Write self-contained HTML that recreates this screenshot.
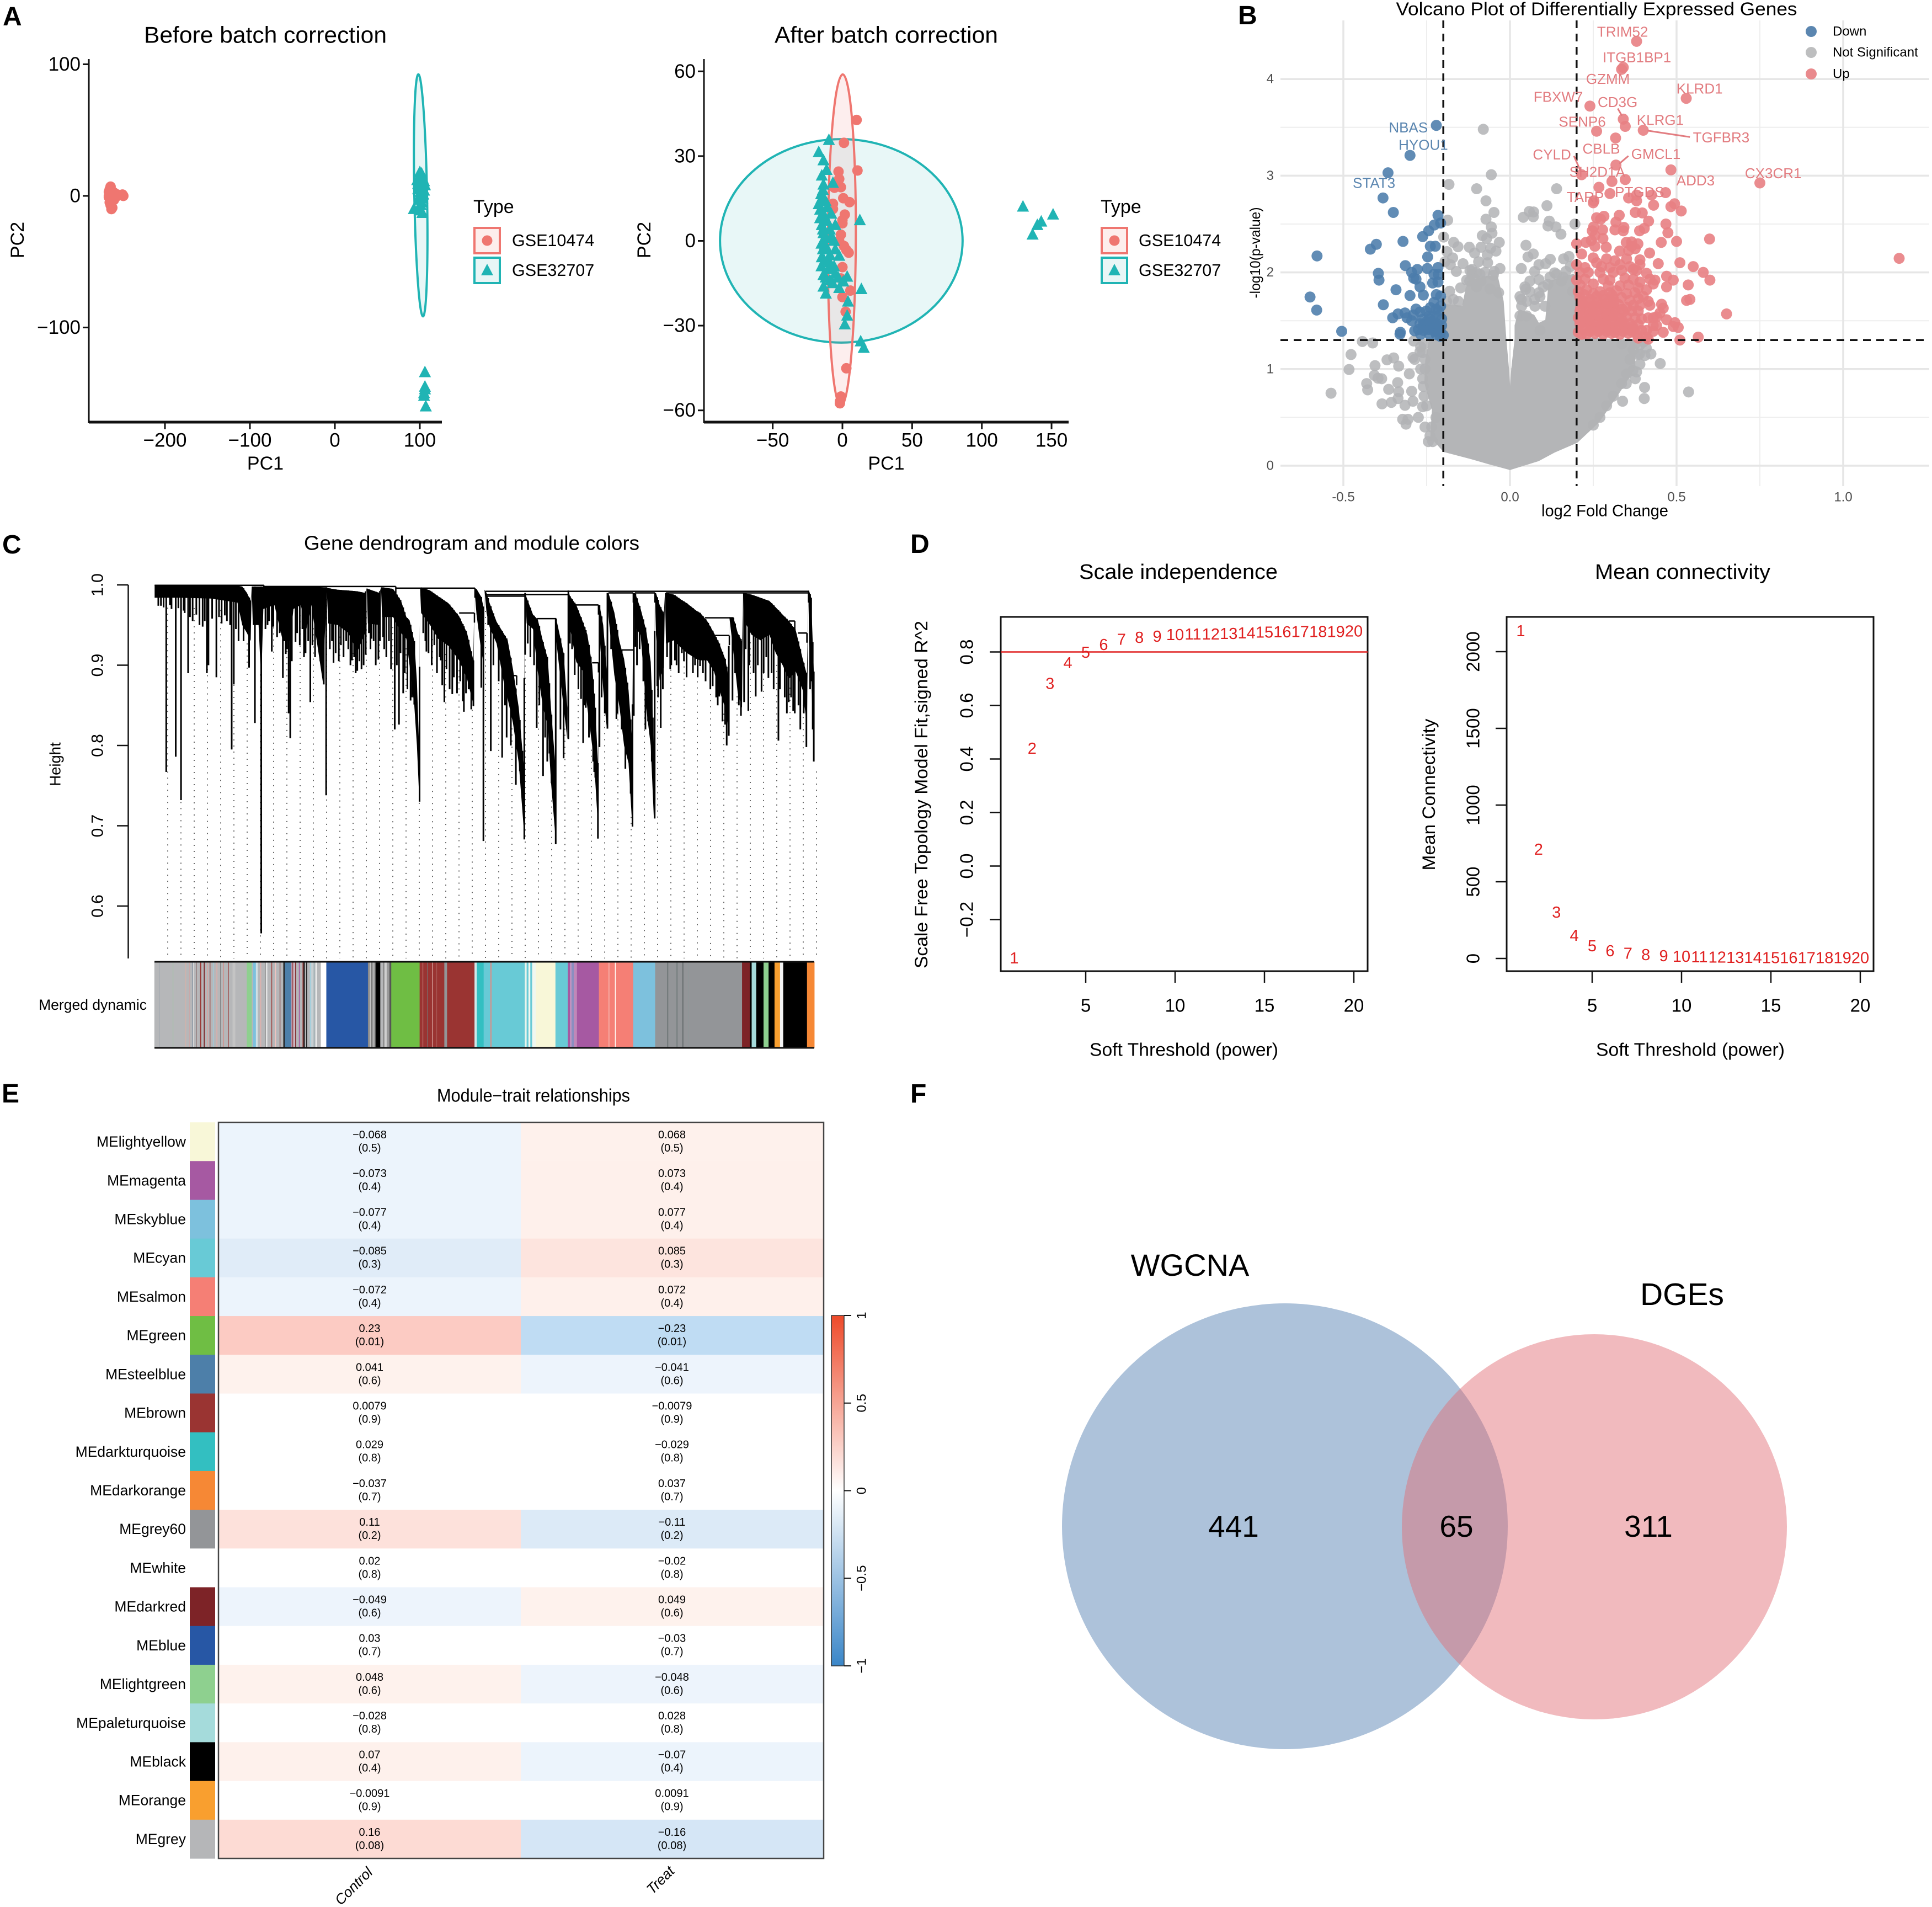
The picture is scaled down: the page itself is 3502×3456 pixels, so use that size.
<!DOCTYPE html>
<html lang="en">
<head>
<meta charset="utf-8">
<title>Multi-panel transcriptomics figure</title>
<style>
html,body{margin:0;padding:0;background:#fff}
svg{display:block}
text{font-family:"Liberation Sans",Arial,sans-serif;fill:#000}
.pl{font-weight:bold;font-size:48px}
</style>
</head>
<body>
<svg id="fig" xmlns="http://www.w3.org/2000/svg" width="3502" height="3456" viewBox="0 0 3502 3456">
<rect width="3502" height="3456" fill="#fff"/>
<text class="pl" x="5" y="46">A</text>
<text class="pl" x="2244" y="44">B</text>
<text class="pl" x="4" y="1003">C</text>
<text class="pl" x="1650" y="1002">D</text>
<text class="pl" x="3" y="1998">E</text>
<text class="pl" x="1650" y="1998">F</text>
<g id="pcaLeft"></g>
<g id="pcaRight"></g>
<g id="volcano"></g>
<g id="dendro"></g>
<g id="scale"></g>
<g id="conn"></g>
<g id="heat"></g>
<g id="venn">
  <circle cx="2329" cy="2766" r="404" fill="#adc2da"/>
  <circle cx="2890" cy="2767" r="349" fill="#e26d74" fill-opacity="0.47"/>
  <text x="2157" y="2312" font-size="56" text-anchor="middle">WGCNA</text>
  <text x="3049" y="2365" font-size="57" text-anchor="middle">DGEs</text>
  <text x="2236" y="2785" font-size="55" text-anchor="middle">441</text>
  <text x="2640" y="2785" font-size="55" text-anchor="middle">65</text>
  <text x="2988" y="2785" font-size="55" text-anchor="middle">311</text>
</g>
</svg>
<script>
/* ---------- PCA data ---------- */
const pcaLeftXTicks=[-200,-100,0,100];
const pcaLeftYTicks=[100,0,-100];
const pcaLeftRed=[[-265,5],[-264,7],[-266,3],[-263,2],[-266,0],[-262,0],[-265,-2],[-261,3],[-266,-1],[-263,-4],[-265,-5],[-264,-7],[-263,-10],[-262,-9],[-258,-1],[-256,1],[-250,1],[-249,0],[-259,2],[-265,5],[-260,-3]];
const pcaLeftTeal=[[100,18],[102,17],[99,14],[103,14],[97,12],[101,12],[105,11],[98,9],[102,9],[106,8],[100,7],[103,6],[98,5],[105,4],[101,3],[104,1],[100,0],[103,-2],[99,-3],[102,-5],[101,-7],[93,-10],[101,-11],[103,-13],[99,-9],[106,-134],[106,-145],[105,-150],[105,-152],[106,-147],[107,-160]];
const pcaLeftEllipse=[101,0.4,7.5,92];
const pcaRightXTicks=[-50,0,50,100,150];
const pcaRightYTicks=[60,30,0,-30,-60];
const pcaRightRed=[[10.2,42.8],[1.1,34.7],[10.8,24.9],[-2.8,24.5],[-2.3,21.9],[-5.7,18.8],[-1.1,19],[0.6,15.1],[5.1,13.7],[-6.8,13.1],[-6.8,11.3],[1.7,9.3],[0,7.3],[0,6.2],[-1.1,2.2],[-2.3,-0.1],[1.1,-1.8],[2.8,-3.2],[4.5,-4.2],[0,-9.3],[-1.1,-13.3],[5.7,-17.6],[0,-19.9],[2.3,-25.1],[2.8,-45.1],[-1.1,-55.1],[-1.7,-56.8],[-1.8,-57.5]];
const pcaRightTeal=[[-9.7,35.7],[-17,31.4],[-13.6,28.5],[-11.4,25.1],[-14.8,23.1],[-6.8,20.5],[-13.6,19.9],[-15.3,16.5],[-17,13],[-10.8,11.9],[-8,9.6],[-14.8,5.6],[-5.1,5.6],[12.5,7.3],[-13.6,2.7],[-8,1.6],[-12.5,-1.3],[-5.1,-3],[-14.8,-5.8],[-9.1,-7.6],[-2.3,-5.3],[-13.6,-12.1],[-5.1,-11.6],[3.4,-12.7],[0.6,-14.4],[-13.6,-16.2],[-2.3,-16.7],[13.6,-17.1],[-11.9,-18.7],[4,-21.5],[3.4,-26.5],[1.7,-29.6],[13.1,-35.6],[15.3,-37.9],[129.5,12.1],[142.6,6.8],[139.8,5.6],[151.1,9.3],[136.4,2.2],[-14,18],[-15,15],[-12,14],[-16,11],[-13,9],[-11,7],[-16,8],[-14,4],[-12,1],[-15,-1],[-11,-3],[-14,-3],[-13,-7],[-15,-9],[-10,-10],[-12,-13],[-9,-14],[-7,-15],[-3,-13],[-6,-9],[-9,-5],[-6,0],[-9,4]];
const pcaRightTealEllipse=[-0.8,0,87,36];
const pcaRightRedEllipse=[-0.4,0.2,10,58.7];
const legendNames=['GSE10474','GSE32707'];

/* ---------- Volcano data ---------- */
const volcanoXTicks=[-0.5,0,0.5,1];
const volcanoXTickText=['-0.5','0.0','0.5','1.0'];
const volcanoXMinor=[-0.25,0.25,0.75];
const volcanoYTicks=[0,1,2,3,4];
const volcanoYMinor=[0.5,1.5,2.5,3.5];
const volcanoDown=[[-.221,3.52],[-.30,3.21],[-.366,3.03],[-.381,2.77],[-.35,2.62],[-.216,2.59],[-.227,2.49],[-.244,2.43],[-.262,2.37],[-.208,2.51],[-.321,2.32],[-.401,2.29],[-.419,2.24],[-.239,2.27],[-.224,2.27],[-.247,2.16],[-.579,2.17],[-.314,2.07],[-.395,1.99],[-.393,1.92],[-.295,2.0],[-.278,2.03],[-.248,2.04],[-.216,2.05],[-.289,1.94],[-.282,1.93],[-.215,1.98],[-.228,1.98],[-.232,1.89],[-.216,1.90],[-.27,1.85],[-.342,1.82],[-.30,1.76],[-.26,1.765],[-.221,1.77],[-.208,1.755],[-.60,1.745],[-.38,1.665],[-.58,1.61],[-.228,1.69],[-.239,1.635],[-.221,1.62],[-.282,1.62],[-.251,1.60],[-.208,1.65],[-.336,1.57],[-.315,1.58],[-.352,1.53],[-.309,1.53],[-.295,1.50],[-.262,1.515],[-.242,1.55],[-.221,1.55],[-.505,1.39],[-.329,1.38],[-.286,1.395],[-.255,1.43],[-.235,1.445],[-.215,1.445],[-.268,1.36],[-.242,1.36],[-.221,1.355],[-.208,1.38],[-.29,1.56],[-.27,1.47],[-.25,1.49],[-.23,1.50],[-.205,1.52],[-.27,1.59],[-.23,1.40],[-.33,1.36],[-.275,1.41],[-.21,1.34],[-.225,1.39],[-.245,1.41],[-.26,1.46],[-.24,1.52],[-.215,1.6],[-.205,1.45],[-.22,1.47],[-.2,1.35],[-.26,1.40]];
const volcanoUp=[[.38,4.39],[.34,4.12],[.335,4.10],[.529,3.80],[.24,3.72],[.34,3.585],[.346,3.51],[.40,3.47],[.26,3.46],[.317,3.39],[.318,3.11],[.483,3.06],[.215,3.01],[.75,2.925],[.346,2.96],[.306,2.94],[.267,2.88],[.467,2.825],[.30,2.815],[.356,2.77],[.38,2.80],[.425,2.80],[.38,2.74],[.252,2.74],[.25,2.72],[.494,2.71],[.431,2.695],[.483,2.68],[.514,2.635],[.376,2.62],[.397,2.615],[.328,2.59],[.282,2.58],[.26,2.565],[.272,2.55],[.416,2.53],[.318,2.52],[.468,2.50],[.251,2.47],[.278,2.44],[.247,2.43],[.342,2.465],[.34,2.43],[.315,2.44],[.403,2.455],[.389,2.43],[.474,2.41],[.255,2.38],[.279,2.35],[.599,2.345],[.50,2.32],[.454,2.31],[.2,2.295],[.228,2.31],[.244,2.33],[.349,2.31],[.365,2.315],[.384,2.295],[.365,2.27],[.376,2.245],[.356,2.225],[.255,2.27],[.289,2.26],[.329,2.22],[.419,2.20],[.215,2.19],[1.168,2.145],
[.25,2.15],[.29,2.14],[.315,2.12],[.35,2.14],[.39,2.13],[.2,2.08],[.225,2.05],[.26,2.10],[.275,2.06],[.30,2.05],[.33,2.08],[.36,2.06],[.39,2.08],[.445,2.09],[.51,2.10],[.55,2.06],[.58,2.0],[.6,1.92],[.21,2.0],[.235,2.0],[.27,2.0],[.31,2.0],[.335,2.02],[.37,2.03],[.38,2.02],[.41,1.99],[.47,1.96],[.49,1.92],[.42,1.93],[.435,1.92],[.2,1.92],[.225,1.93],[.28,1.93],[.30,1.92],[.345,1.94],[.37,1.93],[.39,1.9],[.43,1.88],[.47,1.85],[.535,1.87],[.53,1.71],[.54,1.72],[.65,1.57],[.21,1.87],[.25,1.88],[.295,1.86],[.33,1.86],[.355,1.87],[.385,1.84],[.41,1.82],
[.205,1.8],[.23,1.82],[.27,1.80],[.3,1.79],[.32,1.81],[.35,1.78],[.375,1.79],[.4,1.75],[.385,1.73],[.21,1.74],[.24,1.72],[.26,1.75],[.285,1.72],[.31,1.73],[.335,1.74],[.36,1.71],[.415,1.70],[.42,1.66],[.455,1.67],[.46,1.63],[.39,1.66],[.22,1.67],[.25,1.65],[.275,1.67],[.3,1.65],[.325,1.67],[.35,1.64],[.37,1.66],[.385,1.6],[.21,1.6],[.235,1.6],[.265,1.61],[.29,1.59],[.315,1.6],[.34,1.59],[.365,1.6],[.45,1.58],[.44,1.54],[.415,1.53],[.43,1.53],
[.205,1.53],[.225,1.54],[.25,1.55],[.275,1.53],[.3,1.55],[.325,1.53],[.35,1.54],[.375,1.53],[.395,1.52],[.47,1.51],[.495,1.48],[.49,1.44],[.505,1.43],[.43,1.45],[.44,1.45],[.21,1.47],[.235,1.48],[.26,1.47],[.285,1.48],[.31,1.47],[.335,1.48],[.36,1.47],[.385,1.46],[.41,1.4],[.22,1.41],[.245,1.42],[.27,1.41],[.295,1.42],[.32,1.41],[.345,1.42],[.37,1.41],[.395,1.40],[.205,1.38],[.23,1.36],[.255,1.37],[.28,1.36],[.305,1.37],[.33,1.36],[.355,1.37],[.38,1.36],[.43,1.39],[.46,1.38],[.41,1.33],[.385,1.32],[.415,1.31],[.51,1.30],[.565,1.33],
[.215,1.36],[.24,1.39],[.265,1.39],[.29,1.39],[.315,1.38],[.34,1.39],[.365,1.39],[.218,1.44],[.243,1.45],[.268,1.44],[.293,1.45],[.318,1.44],[.343,1.45],[.368,1.44],[.212,1.5],[.237,1.51],[.262,1.5],[.287,1.51],[.312,1.5],[.337,1.5],[.215,1.56],[.24,1.57],[.262,1.56],[.29,1.56],[.312,1.56],[.212,1.63],[.24,1.63],[.262,1.64],[.288,1.63],[.312,1.63],[.337,1.62],[.215,1.7],[.232,1.69],[.262,1.69],[.29,1.68],[.312,1.69],[.222,1.77],[.25,1.78],[.28,1.76],[.307,1.76]];
const volcanoGrayOutliers=[[-.08,3.48],[-.056,3.01],[-.183,2.91],[-.10,2.865],[.14,2.865],[-.072,2.74],[-.048,2.62],[.111,2.69],[-.187,2.54],[.04,2.57],[.058,2.63],[.071,2.625],[.07,2.575],[-.072,2.55],[.118,2.53],[.195,2.50],[-.056,2.47],[.114,2.48],[.138,2.47],[-.054,2.405],[.153,2.395],[-.199,2.365],[-.083,2.38],[-.07,2.35],[-.169,2.31],[-.032,2.31],[-.156,2.265],[-.122,2.26],[-.087,2.26],[-.058,2.25],[.048,2.28],[-.042,2.22],[-.189,2.215],[-.106,2.2],[-.068,2.18],[.07,2.19],[.054,2.16],[.121,2.135],[.161,2.14],[.177,2.165],[-.172,2.15],[-.195,2.11],[-.141,2.09],[-.179,2.08],[-.094,2.11],[-.067,2.10],[-.03,2.04],[.034,2.04],[.087,2.08],[.107,2.09],[.181,2.06],[-.161,2.01],[-.114,2.03],[-.047,2.01],[.074,2.01],[.134,1.995],[.168,2.01],[-.121,1.91],[-.087,1.91],[.06,1.91],[.087,1.925],[.114,1.875],[.154,1.91],[-.148,1.84],[-.181,1.805],[-.034,1.79],[.047,1.825],[.087,1.79],[.188,1.805],[.034,1.72],[.074,1.72],[-.114,1.98],[-.1,1.85],[-.06,1.83],
[-.443,1.285],[-.412,1.27],[-.477,1.15],[-.483,.995],[-.537,.75],[-.369,1.095],[-.349,1.115],[-.405,1.035],[-.334,1.03],[-.291,1.12],[-.286,1.10],[-.407,.935],[-.396,.905],[-.385,.90],[-.43,.85],[-.427,.785],[-.337,.86],[-.364,.79],[-.334,.765],[-.295,.77],[-.384,.64],[-.356,.655],[-.336,.695],[-.315,.625],[-.291,.667],[-.262,.61],[-.322,.48],[-.312,.43],[-.306,.48],[-.275,.50],[-.255,.40],[-.232,.25],[-.302,.95],[-.268,1.0],[-.262,1.17],[-.289,1.29],
[.451,1.057],[.536,.763],[.403,.695],[.404,.81],[.338,.667],[.376,.90],[.409,1.218],[.423,1.156],[.389,1.156],[.369,.985],[.349,.85],[.336,1.26],[.376,1.26],[.4,1.28],[.36,1.1],
[-.19,1.7],[-.17,1.72],[-.155,1.7],[-.13,1.92],[-.11,1.95],[-.09,1.98],[-.075,2.0],[-.05,1.97],[-.1,2.0],[-.12,2.02],[.035,1.65],[.05,1.7],[.03,1.75],[.045,1.85],[.06,1.8],[.075,1.65],[.09,1.75],[.1,1.85],[.12,1.95],[.14,1.98],[.16,1.95],[.105,1.65],[.03,1.55],[.05,1.55],[.09,1.4],
[-.245,.25],[-.24,.31],[-.235,.4],[-.222,.5],[-.25,.62],[-.258,.72],[-.26,.82],[-.262,.9],[-.255,1.0],[-.255,1.1],[-.27,1.18],[-.268,1.23],[-.258,1.26],[.38,.97],[.39,1.05],[.385,1.15],[.37,1.2],[.35,.95],[.335,.85],[.31,.72],[.29,.62],[.27,.5],[.25,.42],[.39,1.25],[.405,1.14]];
const grayLeftWingFc=[0,-.064,-.114,-.197,-.235,-.23,-.253,-.25,-.24,-.2,-.2,-.14,-.125,-.07,-.04,-.023,-.015,-.007,0];
const grayLeftWingP=[-.03,.03,.08,.155,.3,.575,.86,1.09,1.28,1.32,1.66,1.64,1.9,1.95,1.95,1.7,1.31,1.0,.63];
const grayRightWingFc=[0,.008,.018,.018,.03,.07,.085,.11,.12,.19,.2,.372,.372,.323,.265,.2,.133,.084,0];
const grayRightWingP=[.63,1.0,1.31,1.45,1.6,1.55,1.46,1.5,1.9,1.97,1.32,1.28,1.01,.75,.46,.25,.15,.06,-.03];
const geneLabelsUp=[['TRIM52',.338,4.49],['ITGB1BP1',.381,4.225],['GZMM',.294,4.0],['KLRD1',.569,3.90],['FBXW7',.145,3.815],['CD3G',.323,3.76],['SENP6',.217,3.56],['KLRG1',.451,3.575],['TGFBR3',.634,3.397],['CBLB',.274,3.28],['CYLD',.126,3.22],['GMCL1',.438,3.226],['SH2D1A',.262,3.04],['ADD3',.557,2.95],['CX3CR1',.79,3.024],['PTGDS',.389,2.83],['TARP',.226,2.78]];
const geneLabelsDown=[['NBAS',-.305,3.50],['HYOU1',-.26,3.32],['STAT3',-.408,2.925]];
const geneLeaders=[[.3235,3.695,.336,3.62],[.413,3.466,.54,3.40],[.3555,3.204,.328,3.124],[.192,3.204,.212,3.048]];
const volcanoLegendNames=['Down','Not Significant','Up'];
const fcThresholds=[-0.2,0.2];
const pThreshold=1.3;

/* ---------- Dendrogram data: [leaf rank, upper height, lower height] ---------- */
const dendroMass=[[293,1,.984],[340,1,.984],[400,1,.983],[450,.999,.978],[459,.998,.95],[468,.99,.94],[475,.98,.93],[477,.998,.998],[479,.998,.95],[490,.998,.95],[495,.998,.878],[499,.998,.97],[520,.998,.975],[536,.998,.93],[550,.998,.93],[556,.998,.97],[570,.998,.975],[580,.998,.943],[590,.998,.975],[612,.997,.878],[619,.997,.997],[622,.996,.952],[640,.994,.95],[660,.993,.94],[677,.992,.917],[692,.99,.94],[695,.996,.996],[697,.995,.952],[719,.99,.95],[722,.997,.997],[724,.997,.96],[745,.995,.96],[760,.98,.94],[770,.96,.933],[776,.956,.90],[785,.93,.85],[790,.88,.80],[794,.80,.74],[796,.996,.996],[798,.997,.965],[815,.993,.95],[830,.986,.933],[850,.977,.924],[870,.961,.906],[885,.94,.883],[897,.906,.851],[899,.995,.995],[903,.995,.963],[912,.985,.917],[917,.97,.90],[918,.994,.994],
[922,.99,.965],[928,.977,.947],[941,.954,.927],[954,.94,.881],[962,.931,.858],[972,.895,.828],[983,.847,.778],[992,.778,.70],[995,.99,.99],[998,.984,.952],[1010,.963,.945],[1019,.957,.892],[1029,.929,.847],[1038,.908,.824],[1044,.847,.755],[1052,.778,.69],[1053,.958,.958],[1054,.958,.931],[1068,.915,.847],[1075,.847,.808],[1077,.993,.993],[1080,.986,.947],[1092,.975,.904],[1105,.953,.892],[1113,.938,.847],[1122,.90,.80],[1128,.847,.755],[1133,.778,.70],[1135,.975,.975],[1136,.975,.94],[1143,.95,.87],[1150,.89,.82],[1151,.99,.99],[1153,.99,.961],[1164,.966,.888],[1174,.929,.847],[1182.5,.908,.80],[1191,.869,.778],[1198,.805,.70],[1200,.99,.99],[1203.5,.99,.947],[1214,.97,.938],[1224.5,.943,.847],[1233,.904,.80],[1239,.80,.709],[1241,.99,.99],[1243,.99,.938],[1250,.975,.881],[1258,.964,.897],[1260,.99,.99],[1262,.99,.927],[1277,.988,.931],[1290,.982,.922],[1302,.977,.915],[1319,.968,.908],[1327,.965,.906],[1340,.955,.906],[1353,.94,.892],[1363,.927,.869],[1374,.908,.847],[1380,.888,.824],[1382,.96,.96],[1390,.959,.915],[1398,.94,.865],[1406,.93,.847],[1408,.99,.99],[1409,.99,.957],[1424,.988,.938],[1441,.984,.931],[1458,.98,.938],[1470,.972,.915],[1483,.963,.90],[1495,.955,.883],[1508,.943,.892],[1521,.908,.869],[1529,.888,.824],[1532,.993,.993],[1533,.993,.927],[1537,.984,.892],[1542,.892,.78],[1543,.88,.78]];
const dendroTicks=[1.0,0.9,0.8,0.7,0.6];
const dendroSpikes=[[300,.974],[305,.974],[315,.767],[325,.97],[333,.786],[343,.732],[350,.965],[356.5,.89],[365,.955],[378,.95],[392,.89],[395,.90],[410,.885],[415,.96],[430,.955],[439,.795],[443,.876],[461.5,.93],[472,.897],[483,.828],[495,.566],[507,.95],[515,.917],[536,.884],[541.5,.914],[547,.84],[550,.809],[560,.929],[576,.91],[588,.854],[604,.922],[613.5,.876],[618,.738],[632,.903],[642,.905],[656,.93],[667,.906],[677,.893],[693,.913],[704,.933],[717,.907],[728,.92],[748,.82],[756,.826],[764,.865],[778,.856],[785,.851],[795,.73],[808,.917],[835,.906],[842,.854],[857,.864],[879,.842],[888,.87],[897,.849],[912,.872],
[916,.681],[930,.793],[951.5,.785],[960,.81],[977.5,.751],[985,.768],[993.5,.683],[995,.913],[1000,.927],[1017,.822],[1029,.762],[1037,.78],[1045,.753],[1053,.677],[1068,.784],[1077,.808],[1080,.927],[1089,.888],[1101,.858],[1105,.803],[1110,.847],[1119.5,.835],[1126,.767],[1128,.76],[1133,.684],[1136,.798],[1151,.821],[1168,.833],[1185,.771],[1189,.796],[1198.5,.699],[1201,.837],[1204,.923],[1212,.92],[1223,.82],[1237,.79],[1240.5,.709],[1245.5,.874],[1252,.822],[1270,.895],[1279,.906],[1292,.915],[1308.5,.915],[1317,.90],[1326.5,.899],[1342,.906],[1350.5,.874],[1363,.861],[1374,.826],[1381,.812],[1388,.856],[1404,.837],[1410,.854],[1418,.843],[1432,.861],[1443,.867],[1456,.884],[1475,.806],[1494.5,.854],[1503,.843],[1516.5,.82],[1528,.798],[1537,.88],[1542,.78]];
const dendroFringe=[[310,.972],[322,.975],[338,.971],[348,.968],[360,.96],[372,.963],[384,.948],[388,.955],[402,.958],[420,.952],[426,.962],[436,.95],[447,.945],[452,.93],
[503,.945],[510,.955],[518,.948],[525,.935],[530,.94],[544,.92],[553,.905],[563,.94],[568,.925],[573,.945],[579,.915],[584,.93],[592,.925],[597,.91],[601,.935],[607,.905],[610,.92],[625,.92],[629,.93],[636,.915],[646,.925],[651,.91],[660,.92],[664,.9],[671,.91],[674,.89],[681,.905],[685,.895],[689,.90],
[699,.94],[702,.92],[708,.93],[712,.90],[720,.93],[726,.935],[732,.91],[737,.93],[741,.895],[752,.9],[759,.915],[767,.89],[772,.87],[781,.86],
[802,.94],[806,.93],[812,.915],[818,.90],[823,.925],[828,.89],[833,.91],[838,.875],[846,.895],[852,.87],[860,.885],[866,.865],[872,.88],[877,.855],[883,.865],[893,.845],
[925,.95],[935,.90],[945,.88],[957,.85],[968,.80],[990,.74],[1005,.91],[1012,.90],[1022,.85],[1033,.81],[1041,.79],[1062,.82],[1084,.92],[1096,.87],[1108,.85],[1116,.81],[1124,.78],[1140,.86],[1146,.84],[1158,.92],[1170,.84],[1178,.82],[1195,.74],[1207,.90],[1219,.88],[1228,.83],[1235,.78],[1247,.86],[1256,.87],
[1264,.91],[1272,.90],[1282,.90],[1286,.89],[1296,.905],[1301,.885],[1313,.89],[1322,.885],[1332,.89],[1337,.88],[1346,.87],[1357,.86],[1360,.85],[1369,.83],[1377,.80],
[1393,.89],[1400,.85],[1413,.92],[1420,.90],[1428,.89],[1436,.90],[1447,.89],[1452,.91],[1462,.89],[1466,.87],[1478,.87],[1487,.86],[1491,.84],[1499,.86],[1506,.84],[1513,.85],[1523,.84],[1535,.87],[1540,.82]];
const dendroMerges=[[293,500,.9995],[500,750,.998],[750,900,.996],[920,1532,.992],[920,1077,.988],[922,996,.986],[1018,1054,.958],[1090,1134,.975],[1178,1201,.919],[1122,1134,.903],[972,979,.887],[1336,1390,.959],[1355,1382,.937],[1262,1532,.99],[1512,1529,.94],[1495,1506,.955],[870,899,.965],[630,690,.989],[1153,1200,.99],[1203,1241,.99]];
const G='#b6b7b9';
const moduleBands=[[48,G],[58,'#a3a9b0'],[59.5,G],[88,'#a5c6a5'],[89.5,G],[116,'#d8b0a8'],[117.5,G],[124,'#c9a9a9'],[126,G],[131,'#7f8f9e'],[132.5,'#d5d5d5'],[135,G],[139,'#8a6a6a'],[140.5,G],[148,'#9b3532'],[150.5,G],[156,'#7c2326'],[158,G],[163,'#d9a5a0'],[165,G],[169,'#9b3532'],[170.5,G],[176,'#a5c8d5'],[178,G],[184,'#f0a8a0'],[185.5,G],[192,'#7d7d7d'],[193.5,G],[198,'#cf9490'],[200,G],[209,'#9b3532'],[210.5,G],[219,'#c4c4c4'],[225,G],[250,'#8ed08f'],[261,G],[264,'#7dc1dd'],[270,'#d0e0e4'],[274,G],[280,'#f0b0a8'],[281.5,G],[290,'#9b9b9b'],[292,'#e6e6e6'],[295,G],[304,'#9b3532'],[305.5,G],[312,'#f2c4bf'],[314,G],[322,'#7c2326'],[323.5,G],[330,'#222222'],[333,'#4d7fa9'],[347,'#b69ab0'],[350,'#9b3532'],[351.5,'#c9b8c4'],[356,'#7d2327'],[358,G],[364,'#a659a2'],[366,G],[372,'#9b3532'],[374,'#222222'],[377,G],[380,'#222222'],[382,G],[388,'#a5cfdc'],[391,'#c8cfd2'],[396,'#a8b4b8'],[400,'#e8e8e8'],[404,G],[412,'#ffffff'],[424,'#2757a5'],[515,'#8c8c8c'],[519,'#c5c5c5'],[522,'#777777'],[525,'#b0b0b0'],[530,'#555555'],[533,'#000000'],[542,G],[548,'#888888'],[551,'#cfcfcf'],[556,'#999999'],[562,'#555555'],[566,'#6fbe44'],[628,'#9a3432'],[634,'#b5605c'],[636,'#9a3432'],[645,'#777777'],[646.5,'#9a3432'],[655,'#c98a85'],[657,'#9a3432'],[665,'#b06a66'],[666,'#9a3432'],[682,'#939598'],[688,'#9a3432'],[748,'#cfe8ea'],[753,'#33bfc1'],[768,'#68cad6'],[783,'#f57f75'],[785,'#68cad6'],[858,'#e8f4ec'],[862,'#68cad6'],[866,'#f0f7f0'],[870,'#68cad6'],[874,'#f0f7f0'],[882,'#f8f7d8'],[925,'#68cad6'],[952,'#a659a2'],[957,'#c89ac4'],[960,'#8a8fc0'],[965,'#c088b8'],[972,'#a659a2'],[1020,'#f57f75'],[1041,'#f5b3ac'],[1043,'#f57f75'],[1055,'#fff7f2'],[1057,'#f57f75'],[1095,'#7dc1dd'],[1143,'#939598'],[1170,'#55605f'],[1171.5,'#939598'],[1190,'#5f6d6c'],[1191.5,'#939598'],[1203,'#4f5a59'],[1204.5,'#939598'],[1215,'#8f9698'],[1217,'#939598'],[1333,'#7d2327'],[1350,'#000000'],[1354,'#a5dbdb'],[1364,'#000000'],[1380,'#8ed08f'],[1391,'#000000'],[1404,'#f99f2f'],[1416,'#f5f5f5'],[1423,'#000000'],[1475,'#f68835']];

/* ---------- Soft threshold data ---------- */
const powers=[1,2,3,4,5,6,7,8,9,10,11,12,13,14,15,16,17,18,19,20];
const scaleFitValues=[-.345,.438,.68,.758,.797,.826,.845,.853,.857,.863,.865,.865,.867,.869,.872,.873,.874,.874,.874,.876];
const meanConnValues=[2133,708,298,148,79,47,31,22,14,10,7,5,4,3,2,2,1,1,1,1];
const powerTicks=[5,10,15,20];
const scaleYTicks=[-.2,0,.2,.4,.6,.8];
const scaleYTickText=['\u22120.2','0.0','0.2','0.4','0.6','0.8'];
const connYTicks=[0,500,1000,1500,2000];
const cutHeight=0.8;

/* ---------- Heatmap data ---------- */
const moduleNames=['MElightyellow','MEmagenta','MEskyblue','MEcyan','MEsalmon','MEgreen','MEsteelblue','MEbrown','MEdarkturquoise','MEdarkorange','MEgrey60','MEwhite','MEdarkred','MEblue','MElightgreen','MEpaleturquoise','MEblack','MEorange','MEgrey'];
const moduleColors=['#f8f7d8','#a659a2','#7dc1dd','#68cad6','#f57f75','#6fbe44','#4d7fa9','#9a3432','#33bfc1','#f68835','#939598','#ffffff','#7d2327','#2757a5','#8ed08f','#a5dbdb','#000000','#f99f2f','#b5b6b8'];
const corrControl=[-.068,-.073,-.077,-.085,-.072,.23,.041,.0079,.029,-.037,.11,.02,-.049,.03,.048,-.028,.07,-.0091,.16];
const corrTreat=[.068,.073,.077,.085,.072,-.23,-.041,-.0079,-.029,.037,-.11,-.02,.049,-.03,-.048,.028,-.07,.0091,-.16];
const pValues=['0.5','0.4','0.4','0.3','0.4','0.01','0.6','0.9','0.8','0.7','0.2','0.8','0.6','0.7','0.6','0.8','0.4','0.9','0.08'];
const traitNames=['Control','Treat'];
const heatLegendTicks=[1,0.5,0,-0.5,-1];
const heatLevels=[0,.04,.041,.08,.085,.16,.23,1];
const heatReds=[[255,255,255],[255,255,255],[254,242,237],[254,240,235],[253,228,222],[253,219,212],[252,203,195],[238,74,42]];
const heatBlues=[[255,255,255],[255,255,255],[237,244,252],[236,244,252],[224,236,248],[213,230,246],[191,220,243],[58,134,200]];

/* ---------- helpers ---------- */
const NS='http://www.w3.org/2000/svg';
const $=id=>document.getElementById(id);
function el(tag,attrs,parent,txt){
  const e=document.createElementNS(NS,tag);
  for(const k in attrs)e.setAttribute(k,attrs[k]);
  if(txt!==undefined)e.textContent=txt;
  parent.appendChild(e);
  return e;
}
function label(parent,name,x,y,size,txt,anchor,rot,extra){
  const a=Object.assign({x:x,y:y,'font-size':size,'text-anchor':anchor||'middle','dominant-baseline':'central'},extra||{});
  if(rot)a.transform='rotate('+rot+' '+x+' '+y+')';
  const t=el('text',a,parent,txt);
  
  
  return t;
}
function seg(parent,name,x1,y1,x2,y2,stroke,w,dash){
  const a={x1:x1,y1:y1,x2:x2,y2:y2,stroke:stroke,'stroke-width':w};
  if(dash)a['stroke-dasharray']=dash;
  const l=el('line',a,parent);
  
  
  return l;
}
const minus=s=>String(s).replace('-','\u2212');

/* ---------- Panel A ---------- */
const RED='#ef7670',TEAL='#20b4b4';
function dot(parent,x,y){
  const c=el('circle',{cx:x,cy:y,r:9.5,fill:RED},parent);
  
  
}
function tri(parent,x,y){
  const p=el('polygon',{points:(x-11)+','+(y+9)+' '+(x+11)+','+(y+9)+' '+x+','+(y-12),fill:TEAL},parent);
  
  
}
function ellipse(parent,name,cx,cy,rx,ry,col,fill,rot){
  const e=el('ellipse',{cx:cx,cy:cy,rx:rx,ry:ry,fill:fill,stroke:col,'stroke-width':4,transform:'rotate('+rot+' '+cx+' '+cy+')'},parent);
  
  
}
function pcaAxes(g,left,right,xs,ys,xt,yt,title,titleW,legendX,legendLabelX,pc2X){
  label(g,'pca-title',(left+right)/2,63,42,title,'middle',0,{textLength:titleW,lengthAdjust:'spacingAndGlyphs'});
  seg(g,'y-axis-line',left,107,left,767,'#111',3);
  seg(g,'x-axis-line',left,765,right,765,'#111',5);
  xt.forEach(function(v){
    seg(g,'x-axis-tick',xs(v),765,xs(v),778,'#111',3);
    label(g,'x-axis-tick-label',xs(v),798,35,minus(v));
  });
  yt.forEach(function(v){
    seg(g,'y-axis-tick',left-11,ys(v),left,ys(v),'#111',3);
    label(g,'y-axis-tick-label',left-15,ys(v),35,minus(v),'end');
  });
  label(g,'x-axis-title',(left+right)/2,840,34,'PC1');
  label(g,'y-axis-title',pc2X,435,34,'PC2','middle',-90);
  label(g,'legend-title',legendX,375,34,'Type','start');
  const cols=[RED,TEAL],fills=['#fdeeec','#e8f6f6'],tops=[411,465];
  legendNames.forEach(function(n,i){
    const r=el('rect',{x:legendX+2,y:tops[i]+2,width:46,height:46,fill:fills[i],stroke:cols[i],'stroke-width':4},g);
    
    
    if(i===0)dot(g,legendX+25,tops[i]+25);else tri(g,legendX+25,tops[i]+25);
    label(g,'legend-label',legendLabelX,tops[i]+25,30.5,n,'start');
  });
}
(function(){
  const g=$('pcaLeft');
  const xs=v=>607+1.54*v, ys=v=>355-2.385*v;
  ellipse(g,'ellipse-gse32707',xs(pcaLeftEllipse[0]),ys(pcaLeftEllipse[1]),pcaLeftEllipse[2]*1.54,pcaLeftEllipse[3]*2.385,TEAL,'#e8f6f6',-1.1);
  pcaLeftRed.forEach(function(p){dot(g,xs(p[0]),ys(p[1]));});
  pcaLeftTeal.forEach(function(p){tri(g,xs(p[0]),ys(p[1]));});
  pcaAxes(g,161,801,xs,ys,pcaLeftXTicks,pcaLeftYTicks,'Before batch correction',440,858,928,32);
  const h=$('pcaRight');
  const xr=v=>1527+2.527*v, yr=v=>436.5-5.12*v;
  ellipse(h,'ellipse-gse32707',xr(pcaRightTealEllipse[0]),yr(pcaRightTealEllipse[1]),pcaRightTealEllipse[2]*2.527,pcaRightTealEllipse[3]*5.12,TEAL,'rgba(32,180,180,.1)',0);
  ellipse(h,'ellipse-gse10474',xr(pcaRightRedEllipse[0]),yr(pcaRightRedEllipse[1]),pcaRightRedEllipse[2]*2.527,pcaRightRedEllipse[3]*5.12,RED,'rgba(239,118,112,.12)',0.3);
  pcaRightRed.forEach(function(p){dot(h,xr(p[0]),yr(p[1]));});
  pcaRightTeal.forEach(function(p){tri(h,xr(p[0]),yr(p[1]));});
  pcaAxes(h,1276,1937,xr,yr,pcaRightXTicks,pcaRightYTicks,'After batch correction',405,1995,2064,1168);
})();

/* ---------- Panel B ---------- */
(function(){
  const g=$('volcano');
  const xs=v=>2737+604*v, ys=v=>844-175.2*v;
  label(g,'volcano-title',2894,16,33,'Volcano Plot of Differentially Expressed Genes','middle',0,{textLength:727,lengthAdjust:'spacingAndGlyphs'});
  volcanoXMinor.forEach(function(v){seg(g,'minor-gridline-x',xs(v),37,xs(v),881,'#eeeeee',2);});
  volcanoYMinor.forEach(function(v){seg(g,'minor-gridline-y',2321,ys(v),3497,ys(v),'#eeeeee',2);});
  volcanoXTicks.forEach(function(v,i){
    seg(g,'major-gridline-x',xs(v),37,xs(v),881,'#e6e6e6',3.5);
    label(g,'x-axis-tick-label',xs(v),901,24,volcanoXTickText[i]).style.fill='#4d4d4d';
  });
  volcanoYTicks.forEach(function(v){
    seg(g,'major-gridline-y',2321,ys(v),3497,ys(v),'#e6e6e6',3.5);
    label(g,'y-axis-tick-label',2309,ys(v),24,String(v),'end').style.fill='#4d4d4d';
  });
  label(g,'x-axis-title',2909,926,30,'log2 Fold Change','middle',0,{textLength:230,lengthAdjust:'spacingAndGlyphs'});
  label(g,'y-axis-title',2275,458,26,'-log10(p-value)','middle',-90,{textLength:165,lengthAdjust:'spacingAndGlyphs'});
  const wingL=el('polygon',{points:grayLeftWingFc.map(function(v,i){return xs(v)+','+ys(grayLeftWingP[i]);}).join(' '),fill:'#b4b5b7',stroke:'#b4b5b7','stroke-width':5,'stroke-linejoin':'round'},g);
  
  
  const wingR=el('polygon',{points:grayRightWingFc.map(function(v,i){return xs(v)+','+ys(grayRightWingP[i]);}).join(' '),fill:'#b4b5b7',stroke:'#b4b5b7','stroke-width':5,'stroke-linejoin':'round'},g);
  
  
  volcanoGrayOutliers.forEach(function(p){
    const c=el('circle',{cx:xs(p[0]),cy:ys(p[1]),r:10,fill:'#b2b3b5','fill-opacity':.85},g);
    
    
  });
  volcanoDown.forEach(function(p){
    const c=el('circle',{cx:xs(p[0]),cy:ys(p[1]),r:10,fill:'#4b7cab','fill-opacity':.88},g);
    
    
  });
  volcanoUp.forEach(function(p){
    const c=el('circle',{cx:xs(p[0]),cy:ys(p[1]),r:10,fill:'#e87f83','fill-opacity':.9},g);
    
    
  });
  fcThresholds.forEach(function(v){seg(g,'fold-change-threshold',xs(v),37,xs(v),881,'#111',3.5,'14 10');});
  seg(g,'p-value-threshold',2321,ys(pThreshold),3497,ys(pThreshold),'#111',3.5,'14 10');
  geneLeaders.forEach(function(s){seg(g,'gene-label-leader',xs(s[0]),ys(s[1]),xs(s[2]),ys(s[3]),'#e27c80',3);});
  geneLabelsUp.forEach(function(s){label(g,'gene-label',xs(s[1]),ys(s[2]),26,s[0]).style.fill='#e27c80';});
  geneLabelsDown.forEach(function(s){label(g,'gene-label',xs(s[1]),ys(s[2]),26,s[0]).style.fill='#5b86b0';});
  const legCols=['#5b86b0','#bdbebf','#e98a8d'],legY=[57,95,134];
  volcanoLegendNames.forEach(function(n,i){
    const c=el('circle',{cx:3283,cy:legY[i],r:10,fill:legCols[i]},g);
    
    
    label(g,'legend-label',3322,legY[i],24,n,'start');
  });
})();

/* ---------- Panel C ---------- */
(function(){
  const g=$('dendro');
  const lx=v=>v*0.9566, hy=v=>1060+(1-v)*1455;
  function massAt(leaf,col){
    for(let i=0;i<dendroMass.length-1;i++){
      const a=dendroMass[i],b=dendroMass[i+1];
      if(leaf>=a[0]&&leaf<=b[0]){
        const t=(leaf-a[0])/(b[0]-a[0]);
        return a[col]+(b[col]-a[col])*t;
      }
    }
    return dendroMass[dendroMass.length-1][col];
  }
  label(g,'dendrogram-title',855,984,36,'Gene dendrogram and module colors','middle',0,{textLength:608,lengthAdjust:'spacingAndGlyphs'});
  seg(g,'y-axis-line',232.5,1060,232.5,1737,'#111',2.5);
  dendroTicks.forEach(function(v){
    seg(g,'y-axis-tick',212,hy(v),232.5,hy(v),'#111',2.5);
    label(g,'y-axis-tick-label',177,hy(v),30,v.toFixed(1),'middle',-90);
  });
  label(g,'y-axis-title',100,1385,27.5,'Height','middle',-90);
  for(let i=0;i<50;i++){
    const gx=304+i*24;
    seg(g,'leaf-guide-dotted-line',gx,hy(massAt(gx/0.9566,2))+18,gx,1737,'#666',2,'2 9');
  }
  let d='';
  dendroMass.forEach(function(m,i){d+=(i?' L':'M')+lx(m[0])+' '+hy(m[1]);});
  for(let i=dendroMass.length-1;i>=0;i--){d+=' L'+lx(dendroMass[i][0])+' '+hy(dendroMass[i][2]);}
  const mass=el('path',{d:d+' Z',fill:'#000'},g);
  
  
  dendroSpikes.concat(dendroFringe).forEach(function(s){
    seg(g,'dendrogram-leaf-branch',lx(s[0]),hy(massAt(s[0],1)),lx(s[0]),hy(s[1]),'#000',3);
  });
  dendroMerges.forEach(function(m){
    seg(g,'dendrogram-merge',lx(m[0]),hy(m[2]),lx(m[1]),hy(m[2]),'#000',2.5);
    seg(g,'dendrogram-merge-drop',lx(m[1]),hy(m[2]),lx(m[1]),hy(m[2]-.012),'#000',2.5);
  });
  const bx=v=>240+v*.829;
  moduleBands.forEach(function(b,i){
    const end=i<moduleBands.length-1?moduleBands[i+1][0]:1491;
    const r=el('rect',{x:bx(b[0]),y:1743,width:bx(end)-bx(b[0])+.4,height:156,fill:b[1]},g);
    
    
  });
  seg(g,'module-bar-top-border',280,1743,1476,1743,'#111',3);
  seg(g,'module-bar-bottom-border',280,1899,1476,1899,'#111',3);
  label(g,'module-bar-label',266,1821,26.5,'Merged dynamic','end');
})();

/* ---------- Panel D ---------- */
function softPlot(g,box,title,titleX,titleW,xZero,ys,yt,ytText,values,yTitle,yTitleX,yTitleY,yTitleLen,yLabelX,axisX){
  const xs=v=>xZero+32.4*v;
  label(g,'plot-title',titleX,1037,38,title,'middle',0,{textLength:titleW,lengthAdjust:'spacingAndGlyphs'});
  const r=el('rect',{x:box[0],y:1118,width:box[1]-box[0],height:642,fill:'none',stroke:'#111','stroke-width':3},g);
  
  
  powerTicks.forEach(function(v){
    seg(g,'x-axis-tick',xs(v),1760,xs(v),1781,'#111',2.5);
    label(g,'x-axis-tick-label',xs(v),1822,33,String(v));
  });
  yt.forEach(function(v,i){
    seg(g,'y-axis-tick',box[0]-20,ys(v),box[0],ys(v),'#111',2.5);
    label(g,'y-axis-tick-label',yLabelX,ys(v),33,ytText[i],'middle',-90);
  });
  label(g,'x-axis-title',axisX,1902,33,'Soft Threshold (power)','middle',0,{textLength:342,lengthAdjust:'spacingAndGlyphs'});
  label(g,'y-axis-title',yTitleX,yTitleY,32,yTitle,'middle',-90,{textLength:yTitleLen,lengthAdjust:'spacingAndGlyphs'});
  powers.forEach(function(p,i){
    label(g,'power-point-label',xs(p),ys(values[i]),29,String(p)).style.fill='#e02020';
  });
}
(function(){
  const ya=v=>1569.5-485*v;
  const g=$('scale');
  softPlot(g,[1814,2479],'Scale independence',2136,360,1806,ya,scaleYTicks,scaleYTickText,scaleFitValues,'Scale Free Topology Model Fit,signed R^2',1670,1440,630,1752,2146);
  seg(g,'r-squared-cutoff-line',1814,ya(cutHeight),2479,ya(cutHeight),'#e02020',2.5);
  const yb=v=>1737-.278*v;
  const h=$('conn');
  softPlot(h,[2731,3396],'Mean connectivity',3050,318,2724,yb,connYTicks,connYTicks.map(String),meanConnValues,'Mean Connectivity',2590,1440,275,2670,3064);
})();

/* ---------- Panel E ---------- */
(function(){
  const g=$('heat');
  function heatColor(v){
    const a=Math.abs(v),set=v>=0?heatReds:heatBlues;
    let i=0;
    while(i<heatLevels.length-2&&a>heatLevels[i+1])i++;
    const t=Math.min(1,(a-heatLevels[i])/(heatLevels[i+1]-heatLevels[i]));
    const c=set[i].map(function(x,k){return Math.round(x+(set[i+1][k]-x)*t);});
    return 'rgb('+c.join(',')+')';
  }
  const rowH=1334/moduleNames.length,rowTop=i=>2034+i*rowH;
  label(g,'heatmap-title',967,1985,33,'Module\u2212trait relationships','middle',0,{textLength:350,lengthAdjust:'spacingAndGlyphs'});
  moduleNames.forEach(function(n,i){
    const sw=el('rect',{x:344,y:rowTop(i),width:46,height:rowH+.5,fill:moduleColors[i]},g);
    
    
    label(g,'module-label',337,rowTop(i)+rowH/2,26.5,n,'end');
    [corrControl,corrTreat].forEach(function(series,j){
      const x0=j===0?396:944,x1=j===0?944:1493,cx=j===0?670:1218;
      const c=el('rect',{x:x0,y:rowTop(i),width:x1-x0+.4,height:rowH+.5,fill:heatColor(series[i])},g);
      
      
      label(g,'correlation-value',cx,rowTop(i)+23,20,minus(series[i]));
      label(g,'p-value',cx,rowTop(i)+47,20,'('+pValues[i]+')');
    });
  });
  const fr=el('rect',{x:396,y:2034,width:1097,height:1334,fill:'none',stroke:'#444','stroke-width':2.5},g);
  
  
  const tx=[641,1197],ty=[3418,3407];
  traitNames.forEach(function(n,i){
    label(g,'trait-label',tx[i],ty[i],26,n,'middle',-45,{'font-style':'italic'});
  });
  const defs=el('defs',{},g);
  const lg=el('linearGradient',{id:'heatGrad',x1:0,y1:0,x2:0,y2:1},defs);
  [['0','#ee4a2a'],['0.5','#ffffff'],['1','#3a86c8']].forEach(function(s){el('stop',{offset:s[0],'stop-color':s[1]},lg);});
  const bar=el('rect',{x:1507,y:2384,width:23,height:635,fill:'url(#heatGrad)',stroke:'#333','stroke-width':1.5},g);
  
  
  heatLegendTicks.forEach(function(v){
    const y=2701.5-317.5*v;
    seg(g,'colorbar-tick',1530,y,1543,y,'#111',2);
    label(g,'colorbar-tick-label',1562,y,24,minus(v),'middle',-90);
  });
})();
</script>
</body>
</html>
